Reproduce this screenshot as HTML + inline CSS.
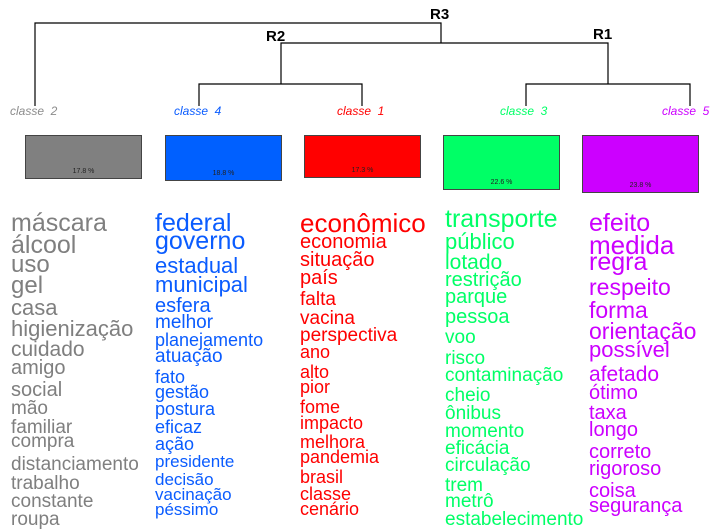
<!DOCTYPE html>
<html><head><meta charset="utf-8"><style>
body{margin:0;width:724px;height:517px;overflow:hidden;background:#fff;position:relative;font-family:"Liberation Sans",Arial,sans-serif}
.w{position:absolute;line-height:1;white-space:nowrap}
.g{color:#7f7f7f;left:11px}.b{color:#0a5cff;left:155px}.r{color:#ff0000;left:300px}.gr{color:#00ff66;left:445px}.p{color:#cc00ff;left:589px}
.cl{position:absolute;top:104px;font-style:italic;font-size:12px}
.bx{position:absolute;top:135px;border:1.5px solid #444;box-sizing:border-box;width:117px;font-size:7px;text-align:center;color:#222}
.R{position:absolute;font-weight:bold;font-size:15px}
</style></head><body>
<svg width="724" height="200" style="position:absolute;left:0;top:0" stroke="#000" stroke-width="1.2" fill="none">
<path d="M35 106V23H441V43M281 84V43H608V84M199 106V84H362V106M526 106V84H690V106"/>
</svg>
<div class="R" style="left:430px;top:6px">R3</div>
<div class="R" style="left:266px;top:28px">R2</div>
<div class="R" style="left:593px;top:26px">R1</div>
<div class="cl" style="left:10px;color:#8c8c8c">classe&nbsp; 2</div>
<div class="cl" style="left:174px;color:#0a5cff">classe&nbsp; 4</div>
<div class="cl" style="left:337px;color:#ff0000">classe&nbsp; 1</div>
<div class="cl" style="left:500px;color:#00ff66">classe&nbsp; 3</div>
<div class="cl" style="left:662px;color:#cc00ff">classe&nbsp; 5</div>
<div class="bx" style="left:25px;height:44px;background:#808080;padding-top:32px">17.8 %</div>
<div class="bx" style="left:165px;height:46px;background:#0060ff;padding-top:34px">18.8 %</div>
<div class="bx" style="left:304px;height:43px;background:#ff0000;padding-top:31px">17.3 %</div>
<div class="bx" style="left:443px;height:55px;background:#00ff66;padding-top:43px">22.6 %</div>
<div class="bx" style="left:582px;height:58px;background:#cc00ff;padding-top:46px">23.8 %</div>

<div class="w g" style="top:211px;font-size:25px">máscara</div>
<div class="w g" style="top:233px;font-size:25px">álcool</div>
<div class="w g" style="top:253px;font-size:24px">uso</div>
<div class="w g" style="top:274px;font-size:24px">gel</div>
<div class="w g" style="top:297px;font-size:22px">casa</div>
<div class="w g" style="top:318px;font-size:22px">higienização</div>
<div class="w g" style="top:339px;font-size:21px">cuidado</div>
<div class="w g" style="top:358px;font-size:20px">amigo</div>
<div class="w g" style="top:380px;font-size:20px">social</div>
<div class="w g" style="top:399px;font-size:19px">mão</div>
<div class="w g" style="top:418px;font-size:19px">familiar</div>
<div class="w g" style="top:432px;font-size:19px">compra</div>
<div class="w g" style="top:455px;font-size:19px">distanciamento</div>
<div class="w g" style="top:474px;font-size:19px">trabalho</div>
<div class="w g" style="top:492px;font-size:19px">constante</div>
<div class="w g" style="top:510px;font-size:19px">roupa</div>

<div class="w b" style="top:211px;font-size:25px">federal</div>
<div class="w b" style="top:229px;font-size:25px">governo</div>
<div class="w b" style="top:255px;font-size:22px">estadual</div>
<div class="w b" style="top:274px;font-size:22px">municipal</div>
<div class="w b" style="top:296px;font-size:20px">esfera</div>
<div class="w b" style="top:313px;font-size:19px">melhor</div>
<div class="w b" style="top:331px;font-size:18px">planejamento</div>
<div class="w b" style="top:347px;font-size:19px">atuação</div>
<div class="w b" style="top:368px;font-size:18px">fato</div>
<div class="w b" style="top:383px;font-size:18px">gestão</div>
<div class="w b" style="top:400px;font-size:18px">postura</div>
<div class="w b" style="top:418px;font-size:18px">eficaz</div>
<div class="w b" style="top:435px;font-size:18px">ação</div>
<div class="w b" style="top:453px;font-size:17px">presidente</div>
<div class="w b" style="top:471px;font-size:17px">decisão</div>
<div class="w b" style="top:486px;font-size:17px">vacinação</div>
<div class="w b" style="top:501px;font-size:17px">péssimo</div>

<div class="w r" style="top:210px;font-size:26px">econômico</div>
<div class="w r" style="top:232px;font-size:20px">economia</div>
<div class="w r" style="top:250px;font-size:20px">situação</div>
<div class="w r" style="top:268px;font-size:20px">país</div>
<div class="w r" style="top:290px;font-size:19px">falta</div>
<div class="w r" style="top:309px;font-size:19px">vacina</div>
<div class="w r" style="top:326px;font-size:19px">perspectiva</div>
<div class="w r" style="top:343px;font-size:18px">ano</div>
<div class="w r" style="top:363px;font-size:18px">alto</div>
<div class="w r" style="top:378px;font-size:18px">pior</div>
<div class="w r" style="top:398px;font-size:18px">fome</div>
<div class="w r" style="top:414px;font-size:18px">impacto</div>
<div class="w r" style="top:433px;font-size:18px">melhora</div>
<div class="w r" style="top:448px;font-size:18px">pandemia</div>
<div class="w r" style="top:468px;font-size:18px">brasil</div>
<div class="w r" style="top:485px;font-size:18px">classe</div>
<div class="w r" style="top:500px;font-size:18px">cenário</div>

<div class="w gr" style="top:207px;font-size:25px">transporte</div>
<div class="w gr" style="top:231px;font-size:22px">público</div>
<div class="w gr" style="top:252px;font-size:21px">lotado</div>
<div class="w gr" style="top:270px;font-size:20px">restrição</div>
<div class="w gr" style="top:287px;font-size:20px">parque</div>
<div class="w gr" style="top:307px;font-size:20px">pessoa</div>
<div class="w gr" style="top:328px;font-size:19px">voo</div>
<div class="w gr" style="top:349px;font-size:19px">risco</div>
<div class="w gr" style="top:366px;font-size:19px">contaminação</div>
<div class="w gr" style="top:386px;font-size:19px">cheio</div>
<div class="w gr" style="top:404px;font-size:19px">ônibus</div>
<div class="w gr" style="top:422px;font-size:19px">momento</div>
<div class="w gr" style="top:439px;font-size:19px">eficácia</div>
<div class="w gr" style="top:456px;font-size:19px">circulação</div>
<div class="w gr" style="top:476px;font-size:19px">trem</div>
<div class="w gr" style="top:492px;font-size:19px">metrô</div>
<div class="w gr" style="top:510px;font-size:19px">estabelecimento</div>

<div class="w p" style="top:211px;font-size:25px">efeito</div>
<div class="w p" style="top:232px;font-size:26px">medida</div>
<div class="w p" style="top:250px;font-size:25px">regra</div>
<div class="w p" style="top:276px;font-size:23px">respeito</div>
<div class="w p" style="top:299px;font-size:23px">forma</div>
<div class="w p" style="top:320px;font-size:23px">orientação</div>
<div class="w p" style="top:339px;font-size:22px">possível</div>
<div class="w p" style="top:364px;font-size:21px">afetado</div>
<div class="w p" style="top:383px;font-size:20px">ótimo</div>
<div class="w p" style="top:403px;font-size:20px">taxa</div>
<div class="w p" style="top:420px;font-size:20px">longo</div>
<div class="w p" style="top:442px;font-size:20px">correto</div>
<div class="w p" style="top:459px;font-size:20px">rigoroso</div>
<div class="w p" style="top:481px;font-size:20px">coisa</div>
<div class="w p" style="top:496px;font-size:20px">segurança</div>
</body></html>
